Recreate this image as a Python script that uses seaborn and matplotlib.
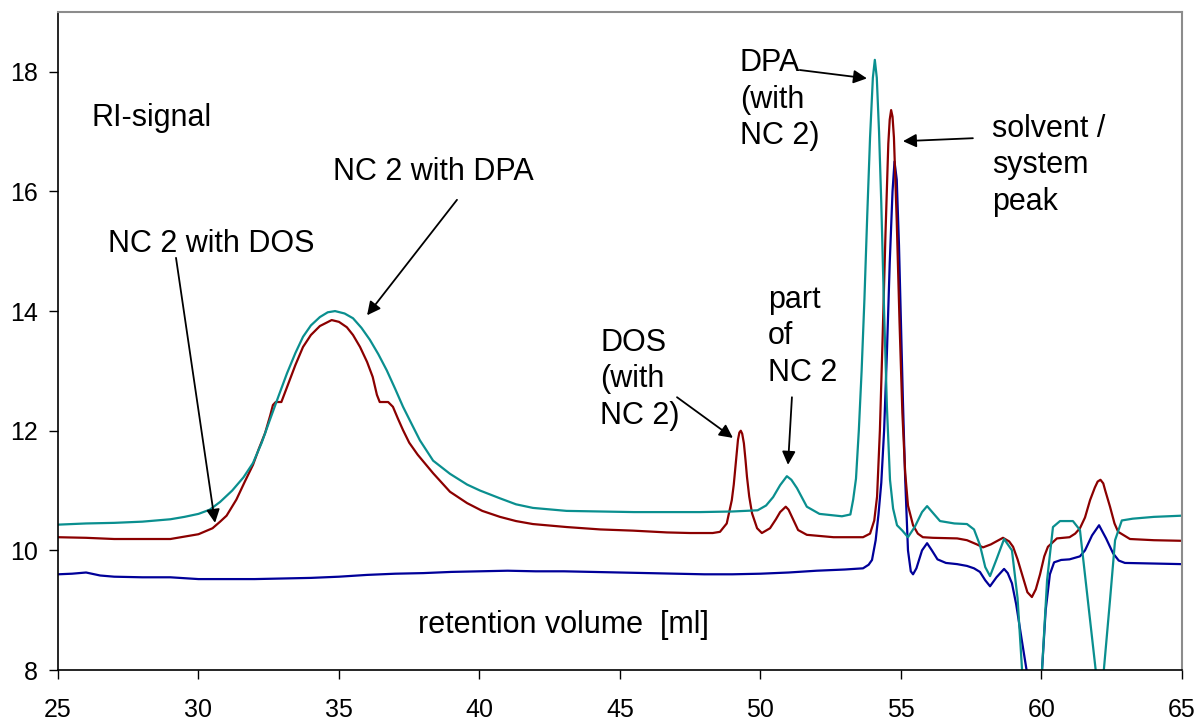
import pandas as pd
import matplotlib
matplotlib.use('Agg')
import matplotlib.pyplot as plt
import seaborn as sns

# RI-signal traces (retention volume in ml)
dpa_x = [25, 26, 27, 28, 29, 29.5, 30, 30.4, 30.77, 31.2, 31.6, 31.94, 32.25, 32.54, 32.85,
         33.15, 33.45, 33.72, 34.0, 34.32, 34.6, 34.86, 35.2, 35.5, 35.8, 36.1, 36.4, 36.7,
         37.0, 37.28, 37.6, 37.88, 38.35, 38.95, 39.56, 40.02, 40.73, 41.3, 41.9, 43.1, 44.3,
         45.5, 46.7, 47.85, 49.0, 49.9, 50.2, 50.45, 50.7, 50.94, 51.1, 51.3, 51.65, 52.1,
         52.9, 53.2, 53.3, 53.4, 53.5, 53.6, 53.7, 53.8, 53.9, 54.0, 54.07, 54.14, 54.22,
         54.3, 54.4, 54.5, 54.61, 54.72, 54.86, 55.05, 55.25, 55.5, 55.75, 55.93, 56.15,
         56.39, 56.9, 57.35, 57.6, 57.81, 58.0, 58.17, 58.4, 58.67, 58.95, 59.15, 59.31,
         59.65, 60.02, 60.2, 60.41, 60.66, 61.12, 61.37, 61.65, 61.93, 62.08, 62.22, 62.44,
         62.62, 62.86, 63.25, 64.0, 65.0]
dpa_y = [10.43, 10.45, 10.46, 10.48, 10.52, 10.56, 10.61, 10.68, 10.81, 11.0, 11.22, 11.46,
         11.8, 12.18, 12.58, 12.96, 13.3, 13.57, 13.76, 13.9, 13.98, 14.0, 13.96, 13.88,
         13.72, 13.52, 13.28, 13.01, 12.7, 12.4, 12.1, 11.84, 11.5, 11.28, 11.1, 11.0, 10.87,
         10.77, 10.71, 10.66, 10.65, 10.64, 10.64, 10.64, 10.65, 10.67, 10.75, 10.89, 11.09,
         11.24, 11.18, 11.04, 10.73, 10.61, 10.57, 10.6, 10.85, 11.2, 12.0, 13.0, 14.2, 15.6,
         16.9, 17.9, 18.2, 17.9, 17.0, 15.8, 14.0, 12.4, 11.18, 10.7, 10.42, 10.33, 10.22,
         10.4, 10.64, 10.74, 10.62, 10.49, 10.45, 10.44, 10.35, 10.09, 9.72, 9.57, 9.85,
         10.19, 10.0, 9.2, 8.0, 6.7, 8.0, 9.5, 10.39, 10.49, 10.49, 10.34, 9.17, 8.0, 7.4,
         8.0, 9.17, 10.17, 10.5, 10.53, 10.56, 10.58]

dos_x = [25, 26, 27, 28, 29, 29.5, 30, 30.5, 30.77, 31.0, 31.35, 31.65, 31.94, 32.15, 32.37,
         32.55, 32.65, 32.75, 32.95, 33.15, 33.45, 33.72, 34.0, 34.32, 34.74, 35.0, 35.28,
         35.5, 35.75, 36.0, 36.2, 36.35, 36.45, 36.75, 36.92, 37.1, 37.28, 37.5, 37.8, 38.35,
         38.95, 39.56, 40.1, 40.73, 41.3, 41.9, 43.1, 44.3, 45.46, 46.67, 47.5, 48.3, 48.56,
         48.8, 48.98, 49.05, 49.12, 49.2, 49.25, 49.3, 49.35, 49.41, 49.47, 49.52, 49.6,
         49.7, 49.88, 50.05, 50.34, 50.55, 50.7, 50.9, 51.0, 51.12, 51.34, 51.65, 52.6, 53.65,
         53.9, 54.05, 54.15, 54.25, 54.35, 54.45, 54.55, 54.6, 54.65, 54.7, 54.75, 54.85,
         54.95, 55.05, 55.15, 55.25, 55.43, 55.6, 55.78, 56.14, 57.0, 57.35, 57.7, 57.92,
         58.2, 58.63, 58.85, 58.99, 59.15, 59.34, 59.5, 59.66, 59.8, 59.95, 60.1, 60.23,
         60.55, 61.0, 61.2, 61.37, 61.55, 61.73, 61.9, 62.0, 62.1, 62.2, 62.27, 62.44, 62.6,
         62.73, 63.15, 64.0, 65.0]
dos_y = [10.22, 10.21, 10.19, 10.19, 10.19, 10.23, 10.27, 10.37, 10.48, 10.58, 10.85, 11.15,
         11.43, 11.7, 11.96, 12.25, 12.43, 12.48, 12.48, 12.73, 13.1, 13.4, 13.6, 13.75,
         13.85, 13.82, 13.73, 13.6, 13.4, 13.15, 12.9, 12.6, 12.48, 12.48, 12.4, 12.2, 12.01,
         11.8, 11.6, 11.29, 10.98, 10.79, 10.66, 10.56, 10.49, 10.44, 10.39, 10.35, 10.33,
         10.3, 10.29, 10.29, 10.31, 10.45, 10.84, 11.1, 11.45, 11.85, 11.97, 12.0, 11.95,
         11.79, 11.5, 11.23, 10.9, 10.62, 10.37, 10.29, 10.37, 10.52, 10.64, 10.73, 10.68,
         10.56, 10.34, 10.26, 10.22, 10.22, 10.28, 10.5, 10.9, 12.0, 13.6, 15.3, 16.8, 17.2,
         17.36, 17.25, 16.9, 15.5, 13.8, 12.3, 11.3, 10.75, 10.42, 10.28, 10.22, 10.21, 10.2,
         10.17, 10.1, 10.05, 10.1, 10.21, 10.15, 10.06, 9.85, 9.55, 9.3, 9.22, 9.35, 9.6,
         9.9, 10.06, 10.2, 10.22, 10.28, 10.37, 10.55, 10.84, 11.05, 11.15, 11.18, 11.12,
         11.0, 10.73, 10.45, 10.31, 10.19, 10.17, 10.16]

nc2_x = [25, 25.5, 26, 26.5, 27, 28, 29, 30, 31, 32, 33, 34, 35, 36, 37, 38, 39, 40, 41, 42,
         43, 44, 45, 46, 47, 48, 49, 50, 51, 52, 53, 53.65, 53.85, 53.97, 54.1, 54.2, 54.3,
         54.4, 54.5, 54.6, 54.7, 54.77, 54.85, 54.93, 55.0, 55.07, 55.15, 55.25, 55.35, 55.43,
         55.55, 55.75, 55.93, 56.1, 56.3, 56.6, 57.0, 57.35, 57.6, 57.81, 58.0, 58.17, 58.4,
         58.67, 58.8, 58.95, 59.1, 59.3, 59.47, 59.75, 60.02, 60.15, 60.3, 60.45, 60.7, 61.0,
         61.37, 61.55, 61.8, 62.05, 62.3, 62.55, 62.75, 62.97, 64.0, 65.0]
nc2_y = [9.6, 9.61, 9.63, 9.58, 9.56, 9.55, 9.55, 9.52, 9.52, 9.52, 9.53, 9.54, 9.56, 9.59,
         9.61, 9.62, 9.64, 9.65, 9.66, 9.65, 9.65, 9.64, 9.63, 9.62, 9.61, 9.6, 9.6, 9.61,
         9.63, 9.66, 9.68, 9.7, 9.76, 9.84, 10.17, 10.6, 11.13, 12.0, 13.3, 14.8, 16.0, 16.5,
         16.2, 15.1, 13.8, 12.5, 11.2, 10.0, 9.65, 9.6, 9.7, 10.0, 10.12, 10.0, 9.85, 9.79,
         9.77, 9.74, 9.7, 9.64, 9.5, 9.4, 9.55, 9.69, 9.62, 9.45, 9.1, 8.5, 8.0, 7.2, 8.0,
         9.0, 9.6, 9.8, 9.84, 9.85, 9.9, 10.0, 10.25, 10.42, 10.2, 9.95, 9.83, 9.79, 9.78,
         9.77]

x_ticks = [25, 30, 35, 40, 45, 50, 55, 60, 65]
y_ticks = [8, 10, 12, 14, 16, 18]

sns.set_style('white')
plt.rcParams['font.family'] = ['Liberation Sans', 'DejaVu Sans']
plt.rcParams['text.color'] = 'black'

fig = plt.figure(figsize=(12.03, 7.22), dpi=100)
ax = fig.add_axes([0.0482, 0.072, 0.9343, 0.9114])

traces = [(nc2_x, nc2_y, '#000099'), (dos_x, dos_y, '#8b0000'), (dpa_x, dpa_y, '#0a8f8f')]
for xs, ys, col in traces:
    df = pd.DataFrame({'vol': xs, 'ri': ys})
    sns.lineplot(data=df, x='vol', y='ri', color=col, lw=1.6, sort=False,
                 estimator=None, ax=ax)

ax.set_xlim(25, 65)
ax.set_ylim(8, 19)
ax.set_xticks(x_ticks)
ax.set_yticks(y_ticks)
ax.set_xlabel('')
ax.set_ylabel('')
ax.tick_params(axis='both', direction='out', length=6.5, width=1, labelsize=18,
               color='black', labelcolor='black')
ax.tick_params(axis='x', pad=14, bottom=True)
ax.tick_params(axis='y', pad=8, left=True)
for side in ['left', 'bottom']:
    ax.spines[side].set_color('black')
    ax.spines[side].set_linewidth(1.2)
for side in ['top', 'right']:
    ax.spines[side].set_color('#8c8c8c')
    ax.spines[side].set_linewidth(1.5)

fs = 22
ls = 1.28
ax.text(26.21, 17.23, 'RI-signal', fontsize=fs, va='center')
ax.text(34.79, 16.32, 'NC 2 with DPA', fontsize=fs, va='center')
ax.text(26.78, 15.12, 'NC 2 with DOS', fontsize=fs, va='center')
ax.text(44.29, 12.86, 'DOS\n(with\nNC 2)', fontsize=fs, va='center', linespacing=ls)
ax.text(50.27, 13.58, 'part\nof\nNC 2', fontsize=fs, va='center', linespacing=ls)
ax.text(49.27, 17.53, 'DPA\n(with\nNC 2)', fontsize=fs, va='center', linespacing=ls)
ax.text(58.24, 16.44, 'solvent /\nsystem\npeak', fontsize=fs, va='center', linespacing=ls)
ax.text(37.81, 8.75, 'retention volume  [ml]', fontsize=fs, va='center')

arrows = [((29.2, 14.89), (30.59, 10.46)),
          ((39.2, 15.86), (36.0, 13.93)),
          ((47.03, 12.56), (49.02, 11.88)),
          ((51.12, 12.56), (50.98, 11.43)),
          ((51.4, 18.03), (53.79, 17.89)),
          ((57.56, 16.89), (55.07, 16.84))]
for tail, head in arrows:
    ax.annotate('', xy=head, xytext=tail,
                arrowprops=dict(arrowstyle='-|>', color='black', lw=1.3,
                                mutation_scale=20, shrinkA=0, shrinkB=0))

fig.savefig('out.png', dpi=100)
